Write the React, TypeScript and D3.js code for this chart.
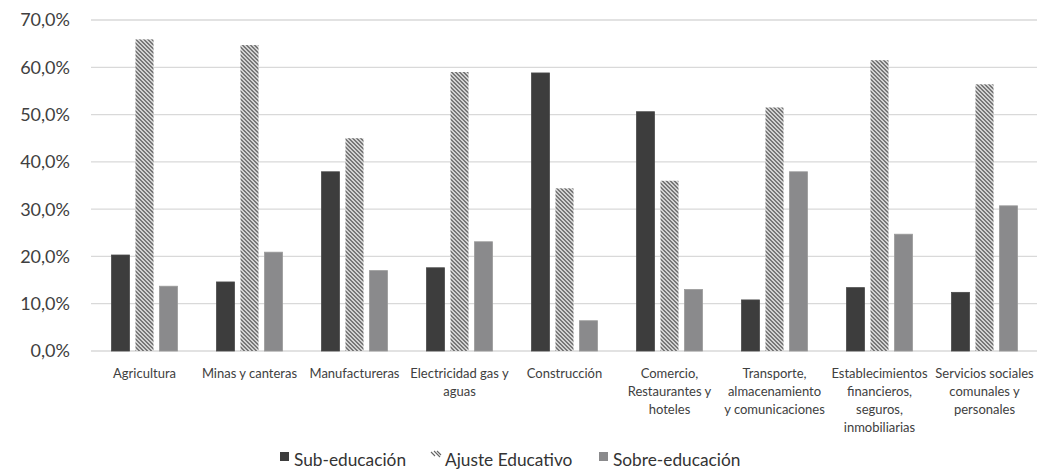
import React from "react";
import * as d3 from "d3";

const categories: string[][] = [
  ["Agricultura"],
  ["Minas y canteras"],
  ["Manufactureras"],
  ["Electricidad gas y", "aguas"],
  ["Construcción"],
  ["Comercio,", "Restaurantes y", "hoteles"],
  ["Transporte,", "almacenamiento", "y comunicaciones"],
  ["Establecimientos", "financieros,", "seguros,", "inmobiliarias"],
  ["Servicios sociales", "comunales y", "personales"],
];

const seriesNames = ["Sub-educación", "Ajuste Educativo", "Sobre-educación"];

const subEducacion = [20.3, 14.6, 37.9, 17.6, 58.8, 50.6, 10.8, 13.4, 12.4];
const ajusteEducativo = [65.9, 64.7, 45.0, 59.0, 34.4, 36.0, 51.5, 61.5, 56.4];
const sobreEducacion = [13.7, 20.9, 17.0, 23.1, 6.4, 13.0, 37.9, 24.7, 30.7];

const yTicks = [0, 10, 20, 30, 40, 50, 60, 70];

const W = 1037;
const H = 469;
const FONT = "Lato, 'Open Sans', sans-serif";

export default function App() {
  const keys = categories.map((c) => c.join(" "));
  const values = [subEducacion, ajusteEducativo, sobreEducacion];

  const x0 = d3.scaleBand<string>().domain(keys).range([92, 1037]);
  const x1 = d3
    .scaleBand<string>()
    .domain(seriesNames)
    .range([-33, 33])
    .paddingInner(0.25);
  const y = d3.scaleLinear().domain([0, 70]).range([351, 20]);

  const fills = ["#3d3d3d", "url(#hatch)", "#8a8a8c"];

  const fmt = (v: number) => v.toFixed(1).replace(".", ",") + "%";

  const legendItems = [
    { x: 280, textX: 294 },
    { x: 431, textX: 445 },
    { x: 599, textX: 613 },
  ];

  return (
    <svg
      width={W}
      height={H}
      style={{ position: "fixed", left: 0, top: 0, background: "#fff" }}
      fontFamily={FONT}
    >
      <defs>
        <pattern
          id="hatch"
          patternUnits="userSpaceOnUse"
          width={4}
          height={4}
        >
          <rect width={4} height={4} fill="#fff" />
          <path
            d="M-1,-1 L5,5 M3,-1 L5,1 M-1,3 L1,5"
            stroke="#4a4a4a"
            strokeWidth={1.4}
          />
        </pattern>
      </defs>

      {/* gridlines */}
      {yTicks.map((t) => (
        <line
          key={t}
          x1={91}
          x2={1037}
          y1={y(t)}
          y2={y(t)}
          stroke="#d9d9d9"
          strokeWidth={1.3}
        />
      ))}

      {/* y axis labels */}
      {yTicks.map((t) => (
        <text
          key={t}
          x={70}
          y={y(t)}
          dy="0.36em"
          textAnchor="end"
          fontSize={18}
          fill="#404040"
        >
          {fmt(t)}
        </text>
      ))}

      {/* bars */}
      {keys.map((k, i) => (
        <g key={k} transform={`translate(${x0(k)! + x0.bandwidth() / 2},0)`}>
          {seriesNames.map((s, j) => {
            const v = values[j][i];
            return (
              <rect
                key={s}
                x={x1(s)!}
                y={y(v)}
                width={x1.bandwidth()}
                height={y(0) - y(v)}
                fill={fills[j]}
                stroke={j === 1 ? "none" : j === 0 ? "#4a4a4a" : "#9a9a9a"}
                strokeWidth={0.8}
              />
            );
          })}
        </g>
      ))}

      {/* category labels */}
      {categories.map((lines, i) => (
        <text
          key={keys[i]}
          x={x0(keys[i])! + x0.bandwidth() / 2}
          y={378}
          textAnchor="middle"
          fontSize={13}
          fill="#404040"
        >
          {lines.map((l, li) => (
            <tspan key={li} x={x0(keys[i])! + x0.bandwidth() / 2} dy={li === 0 ? 0 : 18}>
              {l}
            </tspan>
          ))}
        </text>
      ))}

      {/* legend */}
      {seriesNames.map((s, j) => (
        <g key={s}>
          {j === 1 ? (
            <path
              d={`M${legendItems[j].x},${452} l4,4 M${legendItems[j].x + 3},${451} l6,6 M${legendItems[j].x + 6},${451} l4,4`}
              stroke="#666"
              strokeWidth={1.1}
            />
          ) : (
            <rect
              x={legendItems[j].x}
              y={452}
              width={9}
              height={9}
              fill={fills[j]}
            />
          )}
          <text
            x={legendItems[j].textX}
            y={466}
            fontSize={17.3}
            fill="#333"
          >
            {s}
          </text>
        </g>
      ))}
    </svg>
  );
}
